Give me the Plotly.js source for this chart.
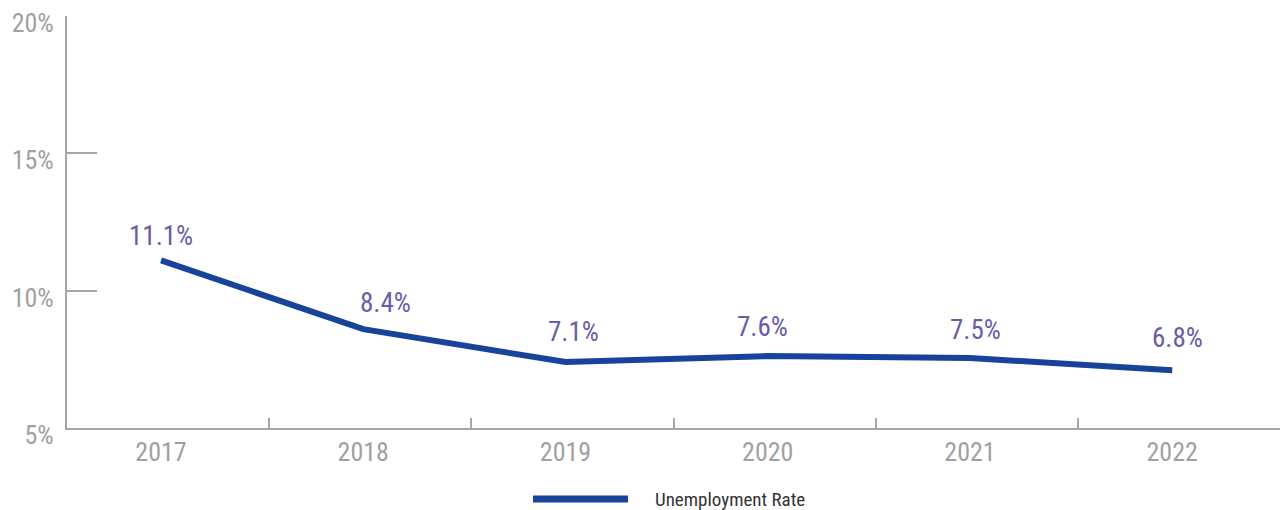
<!DOCTYPE html>
<html>
<head>
<meta charset="utf-8">
<script src="https://cdn.plot.ly/plotly-3.0.1.min.js"></script>
<style>
html,body{margin:0;padding:0;background:#fff;}
#chart{width:1281px;height:510px;}
</style>
</head>
<body>
<div id="chart"></div>
<script>
// Data
const years = [2017, 2018, 2019, 2020, 2021, 2022];
const rateValues = [11.1, 8.6, 7.4, 7.62, 7.55, 7.1];      // plotted line positions (%)
const rateLabels = ['11.1%', '8.4%', '7.1%', '7.6%', '7.5%', '6.8%']; // printed labels
const yTickVals = [5, 10, 15, 20];
const yTickText = ['5%', '10%', '15%', '20%'];
const seriesName = 'Unemployment Rate';

const FONT = '"Liberation Sans Narrow", "Roboto Condensed", Roboto, Arial, sans-serif';
const AXIS_COLOR = '#a6a6a6';
const LINE_COLOR = '#17449a';
const LABEL_COLOR = '#6b5ba8';

// label offsets (px) relative to each point
const labelDx = [0, 22, 8, -5, 6, 5];
const labelDy = [24, 26, 30, 29, 28, 32];

const trace = {
  x: years,
  y: rateValues,
  type: 'scatter',
  mode: 'lines',
  name: seriesName,
  line: {color: LINE_COLOR, width: 6},
  showlegend: false,
  hoverinfo: 'x+y'
};

const annotations = years.map((yr, i) => ({
  x: yr, y: rateValues[i], xref: 'x', yref: 'y',
  text: rateLabels[i], showarrow: false,
  xshift: labelDx[i], yshift: labelDy[i],
  font: {family: FONT, size: 27, color: LABEL_COLOR}
}));

annotations.push({
  xref: 'paper', yref: 'paper', x: (653 - 67) / 1213, y: -71 / 412,
  xanchor: 'left', yanchor: 'middle',
  text: seriesName, showarrow: false,
  font: {family: FONT, size: 19, color: '#333333'}
});

const layout = {
  width: 1281, height: 510,
  margin: {l: 67, r: 1, t: 16, b: 82},
  paper_bgcolor: '#ffffff', plot_bgcolor: '#ffffff',
  font: {family: FONT},
  showlegend: false,
  xaxis: {
    range: [2016.535, 2022.533],
    tickmode: 'array', tickvals: years, ticktext: years.map(String),
    ticks: '', showgrid: false, zeroline: false,
    showline: true, linecolor: AXIS_COLOR, linewidth: 2,
    tickfont: {family: FONT, size: 26, color: '#a0a0a0'},
    minor: {tickmode: 'linear', tick0: 2017.534, dtick: 1, ticks: 'inside', ticklen: 10, tickwidth: 2, tickcolor: AXIS_COLOR, showgrid: false},
    fixedrange: true
  },
  yaxis: {
    range: [5, 20],
    tickmode: 'array', tickvals: yTickVals, ticktext: yTickText,
    ticks: 'inside', ticklen: 30, tickwidth: 2, tickcolor: AXIS_COLOR,
    showgrid: false, zeroline: false,
    showline: true, linecolor: AXIS_COLOR, linewidth: 2,
    tickfont: {family: FONT, size: 26, color: '#a0a0a0'},
    ticklabelshift: 7,
    ticklabelstandoff: 6,
    fixedrange: true
  },
  shapes: [{
    type: 'line', xref: 'paper', yref: 'paper',
    x0: (533 - 67) / 1213, x1: (628 - 67) / 1213,
    y0: -71 / 412, y1: -71 / 412,
    line: {color: LINE_COLOR, width: 7}
  }],
  annotations: annotations
};

Plotly.newPlot('chart', [trace], layout, {displayModeBar: false, staticPlot: true});
</script>
</body>
</html>
